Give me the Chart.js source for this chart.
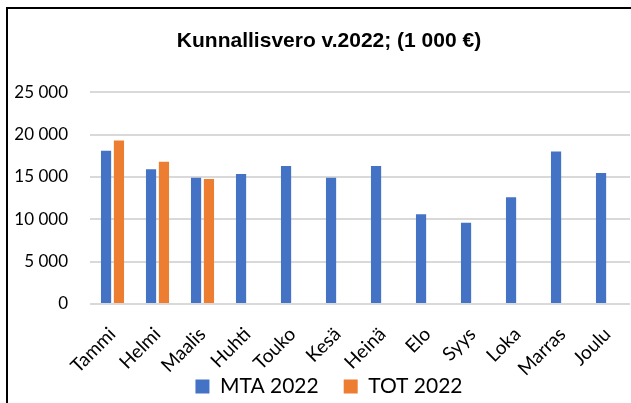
<!DOCTYPE html>
<html>
<head>
<meta charset="utf-8">
<script src="https://cdn.jsdelivr.net/npm/chart.js@4/dist/chart.umd.min.js"></script>
<style>
  html, body { margin: 0; padding: 0; background: #fff; overflow: hidden; }
  #wrap { position: relative; width: 631px; height: 403px; overflow: hidden; }
  #frame { position: absolute; left: 6px; top: 7px; width: 700px; height: 500px;
           border-left: 2px solid #000; border-top: 2px solid #000; }
  #c { position: absolute; left: 0; top: 0; }
</style>
</head>
<body>
<div id="wrap">
  <div id="frame"></div>
  <canvas id="c" width="646" height="403"></canvas>
</div>
<script>
const months = ['Tammi', 'Helmi', 'Maalis', 'Huhti', 'Touko', 'Kesä', 'Heinä', 'Elo', 'Syys', 'Loka', 'Marras', 'Joulu'];
const mta2022 = [18100, 15900, 14900, 15350, 16300, 14900, 16300, 10600, 9600, 12600, 18000, 15450];
const tot2022 = [19300, 16800, 14750, null, null, null, null, null, null, null, null, null];
const yTicks = [0, 5000, 10000, 15000, 20000, 25000];

function spaced(v) {
    return String(v).replace(/\B(?=(\d{3})+(?!\d))/g, ' ');
}

// labels are allowed to spill outside their axis box (legend sits close under the x labels)
function noLabelClip(scale) {
    scale._computeLabelArea = () => undefined;
}

const canvas = document.getElementById('c');
canvas.style.width = '646px';
canvas.style.height = '403px';

var data = {
    labels: months,
    datasets: [{
        label: 'MTA 2022',
        data: mta2022,
        backgroundColor: '#4472C4',
        categoryPercentage: 0.573,
        barPercentage: 0.79
    }, {
        label: 'TOT 2022',
        data: tot2022,
        backgroundColor: '#ED7D31',
        categoryPercentage: 0.573,
        barPercentage: 0.79
    }]
};

var config = {
    type: 'bar',
    data,
    options: {
        responsive: false,
        animation: false,
        layout: { padding: { left: 28, right: 16, top: 0, bottom: -4 } },
        plugins: {
            title: {
                display: true,
                text: 'Kunnallisvero v.2022; (1 000 €)',
                color: '#000',
                font: { family: 'Liberation Sans', size: 21, weight: 'bold' },
                padding: { top: 29, bottom: 38 }
            },
            legend: {
                position: 'bottom',
                labels: {
                    color: '#000',
                    boxWidth: 14,
                    boxHeight: 14,
                    padding: 25,
                    font: { family: 'Lato', size: 21 }
                }
            },
            tooltip: { enabled: false }
        },
        scales: {
            y: {
                min: 0,
                max: 25000,
                afterFit: (scale) => { scale.width = 62; noLabelClip(scale); },
                afterBuildTicks: (scale) => { scale.ticks = yTicks.map(v => ({ value: v })); },
                grid: { color: '#D9D9D9', lineWidth: 2, drawTicks: false },
                border: { display: false },
                ticks: {
                    padding: 22,
                    color: '#000',
                    font: { family: 'Lato', size: 17 },
                    callback: (v) => spaced(v)
                }
            },
            x: {
                afterFit: (scale) => { scale.height = 47; noLabelClip(scale); },
                grid: { display: false },
                border: { display: false },
                ticks: {
                    minRotation: 45,
                    maxRotation: 45,
                    padding: 11,
                    color: '#000',
                    font: { family: 'Lato', size: 19 }
                }
            }
        }
    }
};

new Chart(canvas, config);
</script>
</body>
</html>
